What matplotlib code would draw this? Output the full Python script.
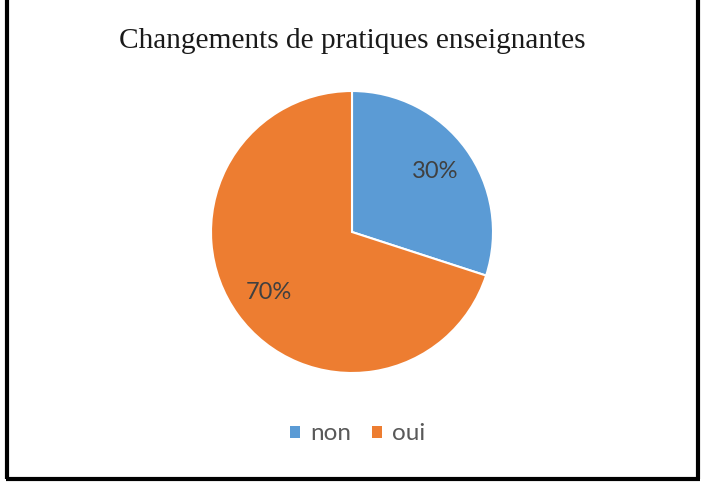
import matplotlib
matplotlib.use("Agg")
import matplotlib.pyplot as plt
from matplotlib.lines import Line2D
from matplotlib.patches import Patch

title = "Changements de pratiques enseignantes"
categories = ["non", "oui"]
values = [30, 70]
colors = ["#5B9BD5", "#ED7D31"]

W, H = 705, 482
fig = plt.figure(figsize=(W / 100, H / 100), dpi=100)

# pie axes in pixel geometry
cx, cy, r = 352, 232, 141
ax = fig.add_axes([(cx - r) / W, (H - cy - r) / H, 2 * r / W, 2 * r / H])
wedges, texts, autotexts = ax.pie(
    values, colors=colors, startangle=90, counterclock=False,
    autopct=lambda p: f"{p:.0f}%", pctdistance=0.73, radius=1,
    wedgeprops=dict(edgecolor="white", linewidth=1.5),
    textprops=dict(family="Lato", fontsize=17, color="#404040"))
ax.set_xlim(-1, 1)
ax.set_ylim(-1, 1)
ax.set_aspect("equal")
ax.axis("off")

fig.text(cx / W, 1 - 41 / H, title, ha="center", va="center",
         family="Liberation Serif", fontsize=21.2, color="#1a1a1a")

handles = [Patch(facecolor=c, edgecolor="none") for c in colors]
fig.legend(handles, categories, loc="center", bbox_to_anchor=(357.5 / W, 1 - 434 / H),
           ncol=2, frameon=False, handlelength=0.42, handleheight=0.42,
           handletextpad=0.42, columnspacing=0.86,
           prop=dict(family="Lato", size=17.5), labelcolor="#595959")

# border (left, right, bottom)
lw = 3
fig.add_artist(Line2D([7 / W, 7 / W], [1 - 478.5 / H, 1.0], color="black", lw=lw, solid_capstyle="butt"))
fig.add_artist(Line2D([698 / W, 698 / W], [1 - 478.5 / H, 1.0], color="black", lw=lw, solid_capstyle="butt"))
fig.add_artist(Line2D([5.5 / W, 699.5 / W], [1 - 478.5 / H, 1 - 478.5 / H], color="black", lw=lw, solid_capstyle="butt"))

fig.savefig("out.png", dpi=100)
